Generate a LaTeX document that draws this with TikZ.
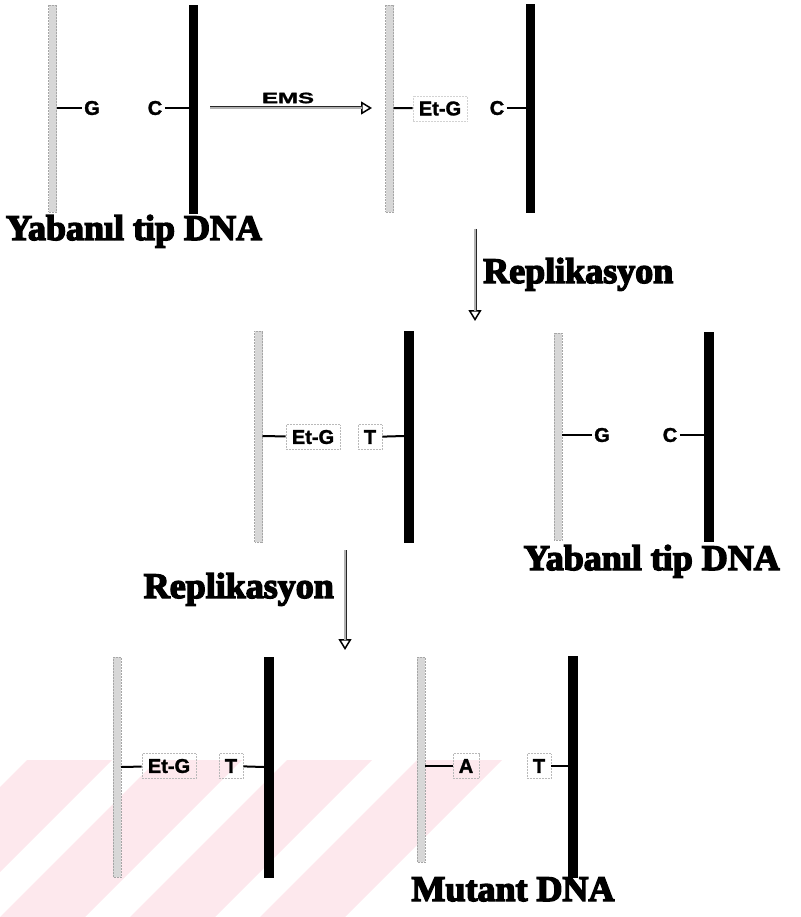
\documentclass[tikz,border=0pt]{standalone}
\usepackage{fontspec}
\usetikzlibrary{arrows.meta}
\newfontfamily\sanslab{Liberation Sans}[UprightFont=* Bold, FakeBold=1.5]
\newfontfamily\heavyserif{Liberation Serif}[UprightFont=* Bold, FakeBold=4]
\definecolor{wmpink}{RGB}{253,232,237}
\definecolor{strandgray}{RGB}{215,215,215}
\tikzset{
 lightstrand/.style={fill=strandgray, draw=gray!70, line width=0.5pt, densely dotted},
 darkstrand/.style={fill=black, draw=black, line width=0.3pt},
 nuc/.style={font=\sanslab\fontsize{20}{21}\selectfont, inner sep=2.5pt},
 mutbox/.style={nuc, draw=gray!55, densely dotted, line width=0.5pt, inner xsep=6pt, minimum height=25pt},
 tickline/.style={line width=2pt},
 biglabel/.style={font=\heavyserif\fontsize{36}{40}\selectfont, inner sep=0pt},
 shaftout/.style={line width=3pt, black!85, shorten >=10pt},
 shaftin/.style={line width=1.1pt, gray!60, shorten >=10.5pt},
 tipline/.style={line width=1.5pt, -{Triangle[open,length=11pt,width=13pt]}},
}
\begin{document}
\begin{tikzpicture}[x=1pt,y=-1pt]
\useasboundingbox (0,0) rectangle (800,917);
% watermark stripes
\begin{scope}
\clip (0,760) -- (530,760) -- (372,917) -- (0,917) -- cycle;
\foreach \i in {0,...,7} {
  \fill[wmpink] ({-260+\i*130},917) -- ({-260+\i*130+85},917) -- ({-260+\i*130+85+157},760) -- ({-260+\i*130+157},760) -- cycle;
}
\end{scope}

% ---------- Panel 1: wild type ----------
\path[lightstrand] (48.5,5) rectangle (56.5,212);
\path[darkstrand] (189,5) rectangle (197,213);
\node[nuc] (p1g) at (92,108) {G};
\node[nuc] (p1c) at (155,108) {C};
\coordinate (p1l) at (56.5,108);
\coordinate (p1r) at (189,108);
\draw[tickline] (p1l) -- (p1g);
\draw[tickline] (p1c) -- (p1r);
\node[biglabel, anchor=base] (wt1) at (134,240) {Yabanıl tip DNA};

% EMS arrow
\coordinate (ems1) at (210,108);
\coordinate (ems2) at (372,108);
\draw[tipline] (ems1) -- (ems2);
\draw[shaftout] (ems1) -- (ems2);
\draw[shaftin] (ems1) -- (ems2);
\node[nuc, font=\sanslab\fontsize{15}{16}\selectfont] (ems) at (288,98) {\scalebox{1.6}[1]{EMS}};

% ---------- Panel 2: Et-G : C ----------
\path[lightstrand] (385.5,5) rectangle (393.5,212);
\path[darkstrand] (526,4) rectangle (534,212);
\node[mutbox, draw=gray!35] (p2e) at (440,108.5) {Et-G};
\node[nuc] (p2c) at (497,108) {C};
\coordinate (p2l) at (393.5,108);
\coordinate (p2r) at (526,108);
\draw[tickline] (p2l) -- (p2e);
\draw[tickline] (p2c) -- (p2r);

% Replikasyon arrow 1
\coordinate (r1a) at (475,229);
\coordinate (r1b) at (475,321);
\draw[tipline] (r1a) -- (r1b);
\draw[shaftout] (r1a) -- (r1b);
\draw[shaftin] (r1a) -- (r1b);
\node[biglabel, anchor=base west] (rep1) at (483,283) {Replikasyon};

% ---------- Panel 3: Et-G : T ----------
\path[lightstrand] (254.5,331) rectangle (262.5,542);
\path[darkstrand] (404,331) rectangle (413,542);
\node[mutbox] (p3e) at (313,437) {Et-G};
\node[mutbox] (p3t) at (370,437) {T};
\coordinate (p3l) at (262.5,436);
\coordinate (p3r) at (404,436);
\draw[tickline] (p3l) -- (p3e);
\draw[tickline] (p3t) -- (p3r);

% ---------- Panel 4: wild type ----------
\path[lightstrand] (554,333) rectangle (562,540);
\path[darkstrand] (704,332) rectangle (713,541);
\node[nuc] (p4g) at (602,435) {G};
\node[nuc] (p4c) at (670,435) {C};
\coordinate (p4l) at (562,435);
\coordinate (p4r) at (704,435);
\draw[tickline] (p4l) -- (p4g);
\draw[tickline] (p4c) -- (p4r);
\node[biglabel, anchor=base east] (wt2) at (780,570) {Yabanıl tip DNA};

% Replikasyon arrow 2
\coordinate (r2a) at (345,550);
\coordinate (r2b) at (345,650);
\draw[tipline] (r2a) -- (r2b);
\draw[shaftout] (r2a) -- (r2b);
\draw[shaftin] (r2a) -- (r2b);
\node[biglabel, anchor=base east] (rep2) at (334,598) {Replikasyon};

% ---------- Panel 5: Et-G : T ----------
\path[lightstrand] (113,657) rectangle (121,877);
\path[darkstrand] (264,657) rectangle (273,877);
\node[mutbox] (p5e) at (169,766) {Et-G};
\node[mutbox] (p5t) at (231,766) {T};
\coordinate (p5l) at (121,767);
\coordinate (p5r) at (264,767);
\draw[tickline] (p5l) -- (p5e);
\draw[tickline] (p5t) -- (p5r);

% ---------- Panel 6: A : T (mutant) ----------
\path[lightstrand] (417,657) rectangle (425,862);
\path[darkstrand] (568,656) rectangle (577,877);
\node[mutbox] (p6a) at (466,766) {A};
\node[mutbox] (p6t) at (539,766) {T};
\coordinate (p6l) at (425,766);
\coordinate (p6r) at (568,766);
\draw[tickline] (p6l) -- (p6a);
\draw[tickline] (p6t) -- (p6r);
\node[biglabel, anchor=base] (mut) at (513,901) {Mutant DNA};
\end{tikzpicture}
\end{document}
